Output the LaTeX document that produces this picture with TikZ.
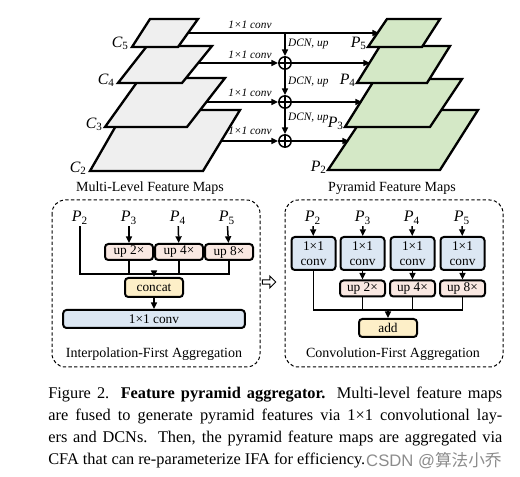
\documentclass[tikz,border=0pt]{standalone}
\usepackage{fontspec}
\setmainfont{Liberation Serif}
\newfontfamily\sansfont{Liberation Sans}
\newfontfamily\cjkfont{Noto Sans CJK SC}
\usetikzlibrary{arrows.meta,positioning,shapes.arrows}

\definecolor{cmapgray}{HTML}{EFEFEF}
\definecolor{pmapgreen}{HTML}{D4E8C6}
\definecolor{upred}{HTML}{F9E8E2}
\definecolor{catyellow}{HTML}{FDEFC8}
\definecolor{convblue}{HTML}{DCE7F3}

\newcommand{\capline}[1]{\makebox[272.4pt][s]{#1}}

\tikzset{
  fmap/.style={draw, line width=1.4pt, line join=miter},
  flow/.style={-{Triangle[length=4pt,width=3.6pt]}, line width=0.9pt},
  wire/.style={line width=0.9pt},
  oplus/.style={circle, draw, line width=0.9pt, minimum size=7.4pt, inner sep=0pt,
    path picture={\draw[line width=0.9pt] (path picture bounding box.north) -- (path picture bounding box.south)
      (path picture bounding box.west) -- (path picture bounding box.east);}},
  convlab/.style={font=\itshape\fontsize{6.8}{7}\selectfont, inner sep=0.5pt},
  maplab/.style={font=\fontsize{9.5}{10}\selectfont, inner sep=0.5pt},
  plab/.style={font=\fontsize{9.6}{10}\selectfont, inner sep=0.8pt},
  title/.style={font=\fontsize{8.4}{9}\selectfont, inner sep=0pt},
  opbox/.style={draw, rounded corners=2pt, line width=1.2pt, inner sep=0pt,
    font=\fontsize{8}{9}\selectfont, align=center},
  upbox/.style={opbox, fill=upred, minimum width=28.8pt, minimum height=9.6pt},
  cbox/.style={opbox, fill=convblue, minimum width=26.4pt, minimum height=19.8pt},
  groupbox/.style={draw, dashed, dash pattern=on 2pt off 1.4pt, line width=0.6pt, rounded corners=8pt},
}

\begin{document}
\begin{tikzpicture}[x=0.6pt, y=-0.6pt]
  \useasboundingbox (0,0) rectangle (520,477);

  % Multi-level feature maps
  \draw[fmap, fill=cmapgray] (125,110) -- (240,110) -- (203,171) -- (90,171) -- cycle;
  \draw[fmap, fill=cmapgray] (140,78) -- (225,78) -- (187,127) -- (105,127) -- cycle;
  \draw[fmap, fill=cmapgray] (147,46) -- (212,46) -- (182,83) -- (118,83) -- cycle;
  \draw[fmap, fill=cmapgray] (150,19) -- (198,19) -- (178,47) -- (132,47) -- cycle;
  \node[maplab, anchor=east] (c5) at (130,43) {\textit{C}\textsubscript{5}};
  \node[maplab, anchor=east] (c4) at (116,80) {\textit{C}\textsubscript{4}};
  \node[maplab, anchor=east] (c3) at (104,124) {\textit{C}\textsubscript{3}};
  \node[maplab, anchor=east] (c2) at (88,168) {\textit{C}\textsubscript{2}};
  \node[title] (mltitle) at (150,188) {Multi-Level Feature Maps};

  % Pyramid feature maps
  \draw[fmap, fill=pmapgreen] (368,110) -- (478,110) -- (440,170) -- (328,170) -- cycle;
  \draw[fmap, fill=pmapgreen] (375,79) -- (462,79) -- (430,127) -- (345,127) -- cycle;
  \draw[fmap, fill=pmapgreen] (380,46) -- (450,46) -- (427,83) -- (357,83) -- cycle;
  \draw[fmap, fill=pmapgreen] (387,19) -- (440,19) -- (422,47) -- (368,47) -- cycle;
  \node[maplab, anchor=east] (p5) at (368,43) {\textit{P}\textsubscript{5}};
  \node[maplab, anchor=east] (p4) at (357,80) {\textit{P}\textsubscript{4}};
  \node[maplab, anchor=east] (p3) at (345,123) {\textit{P}\textsubscript{3}};
  \node[maplab, anchor=east] (p2) at (328,167) {\textit{P}\textsubscript{2}};
  \node[title] (pftitle) at (392,188) {Pyramid Feature Maps};

  % lateral and top-down paths
  \coordinate (out5) at (188,33);
  \coordinate (out4) at (198,63);
  \coordinate (out3) at (206,102);
  \coordinate (out2) at (221,141);
  \coordinate (in5) at (379,33);
  \coordinate (in4) at (370,63);
  \coordinate (in3) at (362,102);
  \coordinate (in2) at (349,141);
  \coordinate (split5) at (285,33);
  \node[oplus] (sum4) at (285,63) {};
  \node[oplus] (sum3) at (285,102) {};
  \node[oplus] (sum2) at (285,141) {};

  \draw[flow] (out5) -- (in5);
  \draw[flow] (split5) -- (sum4);
  \draw[flow] (sum4) -- (sum3);
  \draw[flow] (sum3) -- (sum2);
  \draw[flow] (out4) -- (sum4);
  \draw[flow] (out3) -- (sum3);
  \draw[flow] (out2) -- (sum2);
  \draw[flow] (sum4) -- (in4);
  \draw[flow] (sum3) -- (in3);
  \draw[flow] (sum2) -- (in2);

  \node[convlab] (conv5) at (250,25) {1×1 conv};
  \node[convlab] (conv4) at (250,55) {1×1 conv};
  \node[convlab] (conv3) at (250,93) {1×1 conv};
  \node[convlab] (conv2) at (250,131) {1×1 conv};
  \node[convlab, anchor=west] (dcn4) at (287,44) {DCN, up};
  \node[convlab, anchor=west] (dcn3) at (287,82) {DCN, up};
  \node[convlab, anchor=west] (dcn2) at (287,118) {DCN, up};

  % Interpolation-first aggregation
  \draw[groupbox] (52,200) rectangle (260,367);
  \node[plab] (ip2) at (80,218) {\textit{P}\textsubscript{2}};
  \node[plab] (ip3) at (129,218) {\textit{P}\textsubscript{3}};
  \node[plab] (ip4) at (178,218) {\textit{P}\textsubscript{4}};
  \node[plab] (ip5) at (227,218) {\textit{P}\textsubscript{5}};
  \node[upbox] (iu2) at (129,252) {up 2×};
  \node[upbox] (iu4) at (179,252) {up 4×};
  \node[upbox] (iu8) at (229,252) {up 8×};
  \node[opbox, fill=catyellow, minimum width=34.8pt, minimum height=11.4pt] (icat) at (154,287.5) {concat};
  \node[opbox, fill=convblue, minimum width=109pt, minimum height=10.8pt] (iconv) at (154,319) {1×1 conv};
  \node[title] (ifatitle) at (154,354) {Interpolation-First Aggregation};
  \coordinate (ibus) at (154,274);
  \draw[flow] (ip3) -- (iu2);
  \draw[flow] (ip4) -- (iu4);
  \draw[flow] (ip5) -- (iu8);
  \draw[wire] (ip2) |- (iu8.south |- ibus) -- (iu8.south);
  \draw[wire] (iu2.south) -- (iu2.south |- ibus);
  \draw[wire] (iu4.south) -- (iu4.south |- ibus);
  \draw[flow] (ibus) -- (icat);
  \draw[flow] (icat) -- (iconv);

  % re-parameterization arrow
  \node[single arrow, draw, fill=white, line width=0.6pt, minimum width=7pt,
    minimum height=8pt, single arrow head extend=1.6pt, inner sep=0.6pt] (reparam) at (268,282) {};

  % Convolution-first aggregation
  \draw[groupbox] (285,200) rectangle (503,367);
  \node[plab] (cp2) at (313,218) {\textit{P}\textsubscript{2}};
  \node[plab] (cp3) at (363,218) {\textit{P}\textsubscript{3}};
  \node[plab] (cp4) at (412,218) {\textit{P}\textsubscript{4}};
  \node[plab] (cp5) at (462,218) {\textit{P}\textsubscript{5}};
  \node[cbox] (cc2) at (313.5,253.5) {1×1\\conv};
  \node[cbox] (cc3) at (362.5,253.5) {1×1\\conv};
  \node[cbox] (cc4) at (412.5,253.5) {1×1\\conv};
  \node[cbox] (cc5) at (462.5,253.5) {1×1\\conv};
  \node[upbox, minimum width=27pt] (cu2) at (362.5,288.5) {up 2×};
  \node[upbox, minimum width=27pt] (cu4) at (412.5,288.5) {up 4×};
  \node[upbox, minimum width=27pt] (cu8) at (462.5,288.5) {up 8×};
  \node[opbox, fill=catyellow, minimum width=34.8pt, minimum height=10.8pt] (cadd) at (388,328) {add};
  \node[title] (cfatitle) at (393,354) {Convolution-First Aggregation};
  \coordinate (cbus) at (388,310);
  \draw[flow] (cp2) -- (cc2);
  \draw[flow] (cp3) -- (cc3);
  \draw[flow] (cp4) -- (cc4);
  \draw[flow] (cp5) -- (cc5);
  \draw[flow] (cc3) -- (cu2);
  \draw[flow] (cc4) -- (cu4);
  \draw[flow] (cc5) -- (cu8);
  \draw[wire] (cc2) |- (cu8.south |- cbus) -- (cu8.south);
  \draw[wire] (cu2.south) -- (cu2.south |- cbus);
  \draw[wire] (cu4.south) -- (cu4.south |- cbus);
  \draw[flow] (cbus) -- (cadd);

  % caption
  \node[anchor=north west, inner sep=0pt, align=left, font=\fontsize{9.8}{13.2}\selectfont] (caption) at (48,387) {%
    \capline{Figure 2. \textbf{Feature pyramid aggregator.} Multi-level feature maps}\\
    \capline{are fused to generate pyramid features via 1×1 convolutional lay-}\\
    \capline{ers and DCNs. Then, the pyramid feature maps are aggregated via}\\
    CFA that can re-parameterize IFA for efficiency.};
  \node[anchor=east, inner sep=0pt, text=black!45, font=\fontsize{10}{12}\selectfont] (mark) at (502,461)
    {\sansfont CSDN @\cjkfont 算法小乔};
\end{tikzpicture}
\end{document}
